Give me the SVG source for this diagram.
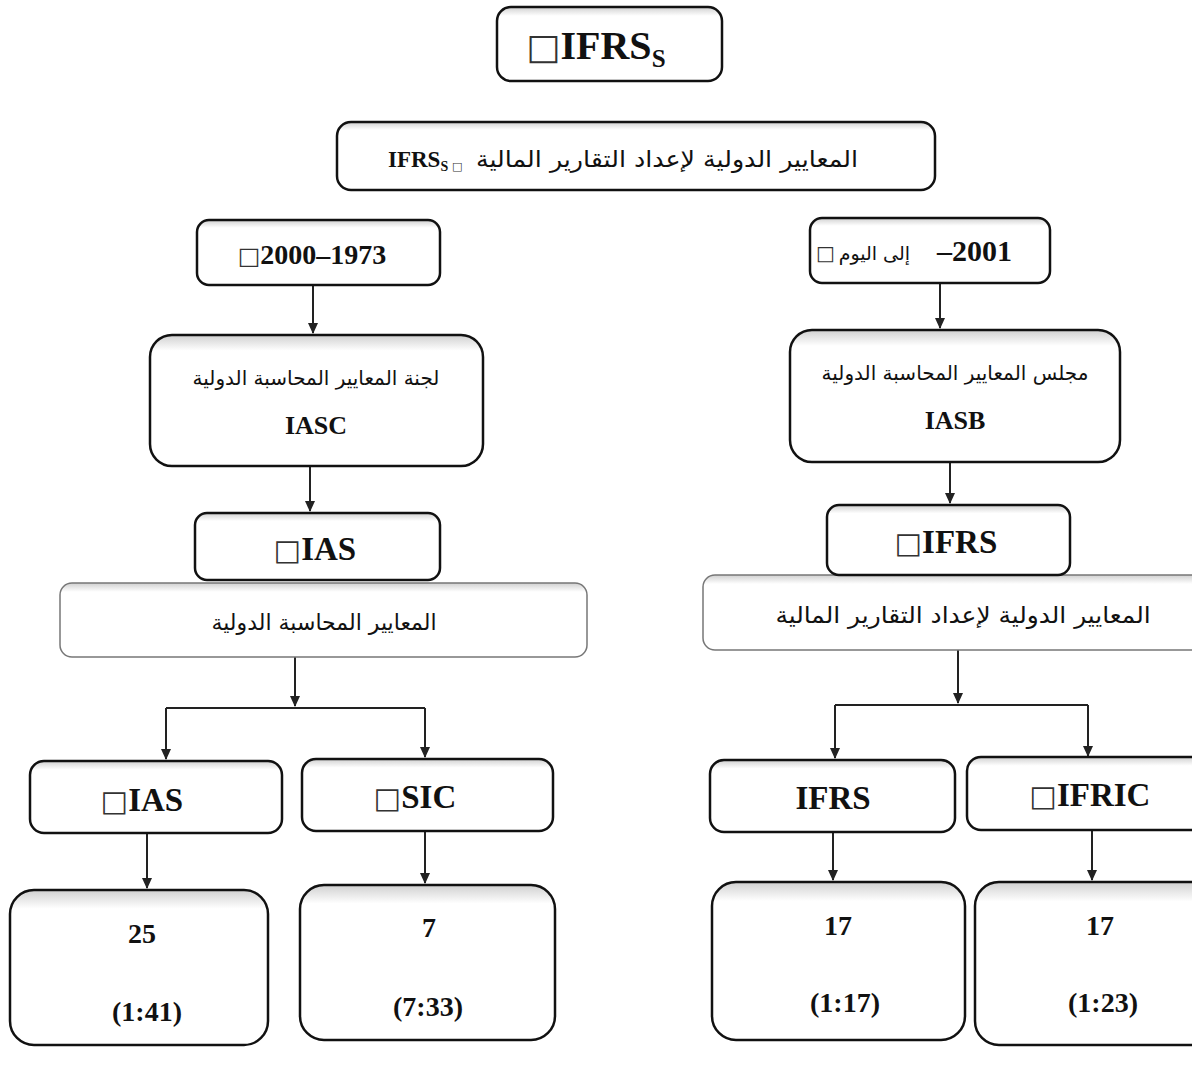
<svg xmlns="http://www.w3.org/2000/svg" width="1192" height="1070" viewBox="0 0 1192 1070">
<defs>
<linearGradient id="sh" x1="0" y1="0" x2="0" y2="1">
<stop offset="0" stop-color="#d0d0d0"/>
<stop offset="0.12" stop-color="#ffffff"/>
<stop offset="1" stop-color="#ffffff"/>
</linearGradient>
<marker id="ah" markerWidth="12" markerHeight="12" refX="10" refY="6" orient="auto" markerUnits="userSpaceOnUse">
<path d="M0,1 L11,6 L0,11 Z" fill="#222"/>
</marker>
</defs>
<style>
.box{fill:url(#sh);stroke:#111;stroke-width:2.5}
.lbox{fill:url(#sh);stroke:#777;stroke-width:1.5}
.lat{font-family:"Liberation Serif",serif;font-weight:bold;fill:#111;text-anchor:middle}
.num{font-family:"Liberation Serif",serif;fill:#111;text-anchor:middle}
.ar{font-family:"DejaVu Sans",sans-serif;fill:#111;text-anchor:middle}
.sq{font-family:"DejaVu Sans",sans-serif;fill:#333}
.con{fill:none;stroke:#222;stroke-width:2}
</style>
<rect width="1192" height="1070" fill="#ffffff"/>

<g id="connectors">
<path class="con" d="M313,285 V333" marker-end="url(#ah)"/>
<path class="con" d="M940,283 V328" marker-end="url(#ah)"/>
<path class="con" d="M310,466 V511" marker-end="url(#ah)"/>
<path class="con" d="M950,462 V503" marker-end="url(#ah)"/>
<path class="con" d="M295,657 V706" marker-end="url(#ah)"/>
<path class="con" d="M166,708 H425"/>
<path class="con" d="M166,708 V759" marker-end="url(#ah)"/>
<path class="con" d="M425,708 V757" marker-end="url(#ah)"/>
<path class="con" d="M958,650 V703" marker-end="url(#ah)"/>
<path class="con" d="M835,705 H1088"/>
<path class="con" d="M835,705 V758" marker-end="url(#ah)"/>
<path class="con" d="M1088,705 V756" marker-end="url(#ah)"/>
<path class="con" d="M147,833 V888" marker-end="url(#ah)"/>
<path class="con" d="M425,831 V883" marker-end="url(#ah)"/>
<path class="con" d="M833,832 V880" marker-end="url(#ah)"/>
<path class="con" d="M1092,830 V880" marker-end="url(#ah)"/>
</g>

<g id="n-top">
<rect class="box" x="497" y="7" width="225" height="74" rx="14"/>
<text class="lat" x="596" y="59" font-size="40"><tspan class="sq" font-weight="normal" font-size="36">□</tspan>IFRS<tspan font-size="25" dy="8">S</tspan></text>
</g>

<g id="n-ifrss">
<rect class="box" x="337" y="122" width="598" height="68" rx="14"/>
<text class="ar" x="0" y="0" font-size="23" style="text-anchor:end" transform="translate(858,167) scale(1.1,1)">المعايير الدولية لإعداد التقارير المالية</text>
<text class="lat" x="388" y="167" font-size="23" style="text-anchor:start">IFRS<tspan font-size="14" dy="4">S</tspan></text>
<text class="sq" x="452" y="170" font-size="11">□</text>
</g>

<g id="n-1973">
<rect class="box" x="197" y="220" width="243" height="65" rx="12"/>
<text class="lat" x="312" y="264" font-size="28"><tspan class="sq" font-weight="normal" font-size="24">□</tspan>2000–1973</text>
</g>

<g id="n-2001">
<rect class="box" x="810" y="218" width="240" height="65" rx="12"/>
<text class="sq" x="816" y="260" font-size="20">□</text>
<text class="ar" x="910" y="260" font-size="19" style="text-anchor:end">إلى اليوم</text>
<text class="lat" x="1012" y="261" font-size="30" style="text-anchor:end">–2001</text>
</g>

<g id="n-iasc">
<rect class="box" x="150" y="335" width="333" height="131" rx="22"/>
<text class="ar" x="316" y="385" font-size="20">لجنة المعايير المحاسبة الدولية</text>
<text class="lat" x="316" y="434" font-size="26">IASC</text>
</g>

<g id="n-iasb">
<rect class="box" x="790" y="330" width="330" height="132" rx="22"/>
<text class="ar" x="955" y="380" font-size="20">مجلس المعايير المحاسبة الدولية</text>
<text class="lat" x="955" y="429" font-size="26">IASB</text>
</g>

<g id="n-ias-std">
<rect class="lbox" x="60" y="583" width="527" height="74" rx="12"/>
<text class="ar" x="324" y="630" font-size="22">المعايير المحاسبة الدولية</text>
</g>

<g id="n-ias-top">
<rect class="box" x="195" y="513" width="245" height="67" rx="12"/>
<text class="lat" x="315" y="560" font-size="33"><tspan class="sq" font-weight="normal" font-size="29">□</tspan>IAS</text>
</g>

<g id="n-ifrs-std">
<rect class="lbox" x="703" y="575" width="500" height="75" rx="12"/>
<text class="ar" x="0" y="0" font-size="23" transform="translate(963,623) scale(1.08,1)">المعايير الدولية لإعداد التقارير المالية</text>
</g>

<g id="n-ifrs-top">
<rect class="box" x="827" y="505" width="243" height="70" rx="12"/>
<text class="lat" x="946" y="553" font-size="33"><tspan class="sq" font-weight="normal" font-size="29">□</tspan>IFRS</text>
</g>

<g id="n-ias">
<rect class="box" x="30" y="761" width="252" height="72" rx="14"/>
<text class="lat" x="142" y="811" font-size="33"><tspan class="sq" font-weight="normal" font-size="29">□</tspan>IAS</text>
</g>

<g id="n-sic">
<rect class="box" x="302" y="759" width="251" height="72" rx="14"/>
<text class="lat" x="415" y="808" font-size="33"><tspan class="sq" font-weight="normal" font-size="29">□</tspan>SIC</text>
</g>

<g id="n-ifrs">
<rect class="box" x="710" y="760" width="245" height="72" rx="14"/>
<text class="lat" x="833" y="809" font-size="33">IFRS</text>
</g>

<g id="n-ifric">
<rect class="box" x="967" y="757" width="245" height="73" rx="14"/>
<text class="lat" x="1090" y="806" font-size="33"><tspan class="sq" font-weight="normal" font-size="29">□</tspan>IFRIC</text>
</g>

<g id="n-25">
<rect class="box" x="10" y="890" width="258" height="155" rx="24"/>
<text class="num" x="142" y="943" font-size="28" font-weight="bold">25</text>
<text class="num" x="147" y="1021" font-size="28" font-weight="bold">(1:41)</text>
</g>

<g id="n-7">
<rect class="box" x="300" y="885" width="255" height="155" rx="24"/>
<text class="num" x="429" y="937" font-size="28" font-weight="bold">7</text>
<text class="num" x="428" y="1016" font-size="28" font-weight="bold">(7:33)</text>
</g>

<g id="n-17a">
<rect class="box" x="712" y="882" width="253" height="158" rx="24"/>
<text class="num" x="838" y="935" font-size="28" font-weight="bold">17</text>
<text class="num" x="845" y="1012" font-size="28" font-weight="bold">(1:17)</text>
</g>

<g id="n-17b">
<rect class="box" x="975" y="882" width="240" height="163" rx="24"/>
<text class="num" x="1100" y="935" font-size="28" font-weight="bold">17</text>
<text class="num" x="1103" y="1012" font-size="28" font-weight="bold">(1:23)</text>
</g>
</svg>
